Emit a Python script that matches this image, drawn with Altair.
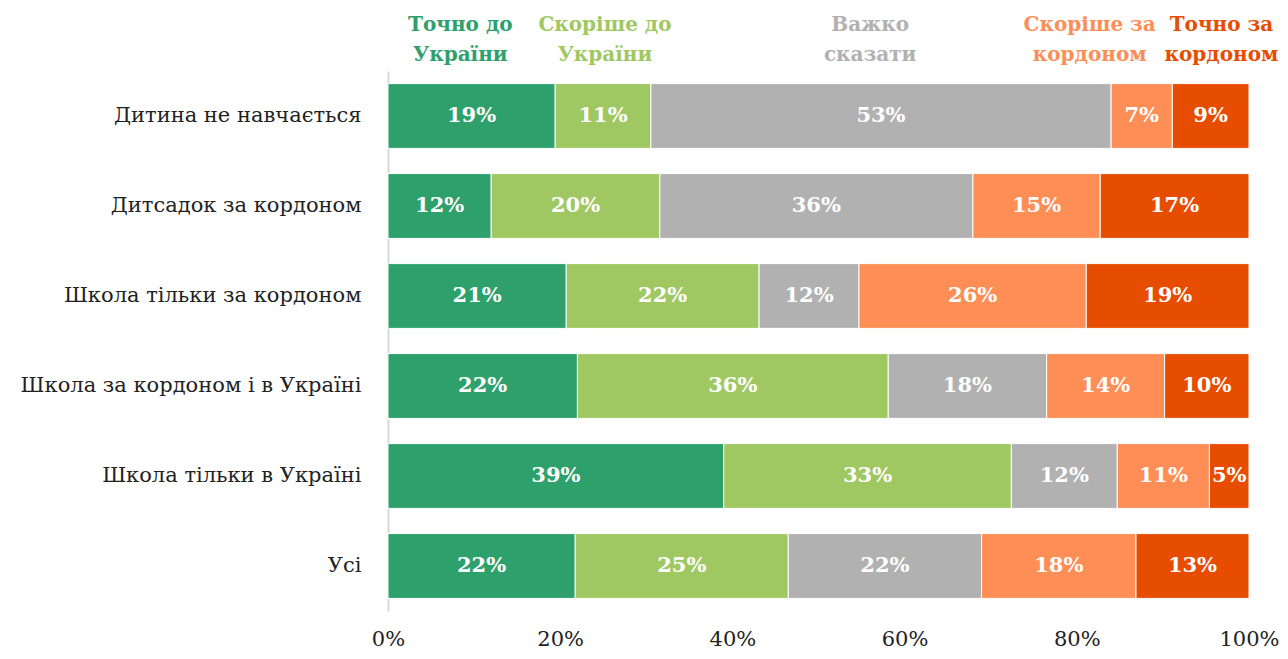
import altair as alt
import pandas as pd

groups = ["Дитина не навчається", "Дитсадок за кордоном", "Школа тільки за кордоном",
          "Школа за кордоном і в Україні", "Школа тільки в Україні", "Усі"]
cats = ["Точно до України", "Скоріше до України", "Важко сказати",
        "Скоріше за кордоном", "Точно за кордоном"]
legend_lines = [["Точно до", "України"], ["Скоріше до", "України"], ["Важко", "сказати"],
                ["Скоріше за", "кордоном"], ["Точно за", "кордоном"]]
colors = ["#2ea06b", "#9fc862", "#b1b1b1", "#ff8d56", "#e74d00"]

v_definitely_ua = [19.4, 12.0, 20.7, 22.0, 39.0, 21.7]
v_rather_ua = [11.1, 19.6, 22.4, 36.1, 33.4, 24.7]
v_hard = [53.4, 36.4, 11.6, 18.4, 12.3, 22.4]
v_rather_abroad = [7.1, 14.8, 26.4, 13.7, 10.7, 17.9]
v_definitely_abroad = [8.9, 17.3, 18.9, 9.8, 4.6, 13.1]
series = [v_definitely_ua, v_rather_ua, v_hard, v_rather_abroad, v_definitely_abroad]

# legend header positions (fraction of the x axis) - layout only
legend_pos = [0.084, 0.252, 0.560, 0.815, 0.968]

rows = []
for ci, (c, vals) in enumerate(zip(cats, series)):
    for g, v in zip(groups, vals):
        rows.append({"group": g, "cat": c, "order": ci, "value": v})
df = pd.DataFrame(rows)
leg = pd.DataFrame({"cat": cats, "lines": legend_lines, "pos": legend_pos})

FONT = "DejaVu Serif"
color_scale = alt.Scale(domain=cats, range=colors)
x_scale = alt.Scale(domain=[0, 1], nice=False, zero=True)

base = alt.Chart(df).transform_stack(
    stack="value", as_=["v0", "v1"], groupby=["group"],
    sort=[alt.SortField("order")], offset="normalize"
).transform_calculate(mid="(datum.v0 + datum.v1) / 2",
                      lab="round(datum.value) + '%'")

y_enc = alt.Y("group:N", sort=groups, title=None,
              scale=alt.Scale(paddingInner=0.28, paddingOuter=0.14),
              axis=alt.Axis(labelFont=FONT, labelFontSize=21, labelColor="#222222",
                            labelPadding=27, ticks=False, domainColor="#d9d9d9",
                            domainWidth=2, labelLimit=400))

bars = base.mark_bar(stroke="white", strokeWidth=1).encode(
    x=alt.X("v0:Q", scale=x_scale, title=None,
            axis=alt.Axis(format=".0%", values=[0, 0.2, 0.4, 0.6, 0.8, 1.0],
                          labelFont=FONT, labelFontSize=21, labelColor="#222222",
                          labelPadding=17, ticks=False, domain=False, grid=False,
                          labelFlush=False)),
    x2="v1:Q",
    y=y_enc,
    color=alt.Color("cat:N", scale=color_scale, legend=None),
)

labels = base.mark_text(color="white", font=FONT, fontWeight="bold", fontSize=21,
                        baseline="middle").encode(
    x=alt.X("mid:Q", scale=x_scale),
    y=alt.Y("group:N", sort=groups),
    text="lab:N",
)

legend = alt.Chart(leg).mark_text(font=FONT, fontWeight="bold", fontSize=20,
                                  baseline="middle", lineHeight=30,
                                  align="center").encode(
    x=alt.X("pos:Q", scale=x_scale),
    y=alt.value(-46),
    text="lines",
    color=alt.Color("cat:N", scale=color_scale, legend=None),
)

chart = alt.layer(bars, labels, legend).properties(
    width=861, height=540,
    autosize=alt.AutoSizeParams(type="none"),
    padding={"left": 380, "top": 63, "right": 31, "bottom": 40},
).configure_view(stroke=None)

chart.save("out.html", embed_options={"renderer": "svg", "actions": False})
